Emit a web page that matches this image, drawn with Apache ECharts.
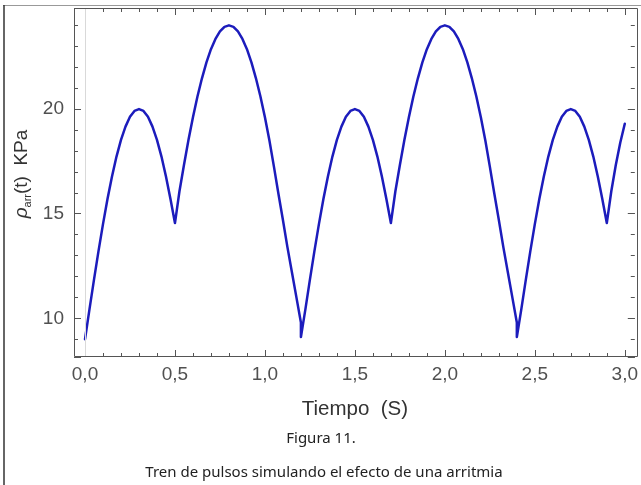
<!DOCTYPE html>
<html>
<head>
<meta charset="utf-8">
<script src="https://cdn.jsdelivr.net/npm/echarts/dist/echarts.min.js"></script>
<style>html,body{margin:0;padding:0;background:#fff}#c{width:641px;height:485px}</style>
</head>
<body>
<div id="c"></div>
<script>
// ---- data ----
const timeS = [
  0.000,0.025,0.050,0.075,0.100,0.125,0.150,0.175,0.200,0.225,0.250,0.275,0.300,0.325,0.350,0.375,0.400,0.425,0.450,0.475,0.500,
  0.525,0.550,0.575,0.600,0.625,0.650,0.675,0.700,0.725,0.750,0.775,0.800,0.825,0.850,0.875,0.900,0.925,0.950,0.975,1.000,1.025,1.050,1.075,1.100,1.125,1.150,1.175,1.200,
  1.200,
  1.225,1.250,1.275,1.300,1.325,1.350,1.375,1.400,1.425,1.450,1.475,1.500,1.525,1.550,1.575,1.600,1.625,1.650,1.675,1.700,
  1.725,1.750,1.775,1.800,1.825,1.850,1.875,1.900,1.925,1.950,1.975,2.000,2.025,2.050,2.075,2.100,2.125,2.150,2.175,2.200,2.225,2.250,2.275,2.300,2.325,2.350,2.375,2.400,
  2.400,
  2.425,2.450,2.475,2.500,2.525,2.550,2.575,2.600,2.625,2.650,2.675,2.700,2.725,2.750,2.775,2.800,2.825,2.850,2.875,2.900,
  2.925,2.950,2.975,3.000
];
const pressureKPa = [
  9.00,10.44,11.85,13.21,14.50,15.70,16.78,17.73,18.53,19.16,19.63,19.91,20.00,19.91,19.63,19.16,18.53,17.73,16.78,15.70,14.55,
  16.07,17.33,18.52,19.61,20.60,21.47,22.23,22.86,23.35,23.71,23.93,24.00,23.93,23.71,23.35,22.86,22.23,21.47,20.60,19.61,18.50,17.25,15.95,14.70,13.40,12.20,11.00,9.80,
  9.10,
  10.44,11.85,13.21,14.50,15.70,16.78,17.73,18.53,19.16,19.63,19.91,20.00,19.91,19.63,19.16,18.53,17.73,16.78,15.70,14.55,
  16.07,17.33,18.52,19.61,20.60,21.47,22.23,22.86,23.35,23.71,23.93,24.00,23.93,23.71,23.35,22.86,22.23,21.47,20.60,19.61,18.50,17.25,15.95,14.70,13.40,12.20,11.00,9.80,
  9.10,
  10.44,11.85,13.21,14.50,15.70,16.78,17.73,18.53,19.16,19.63,19.91,20.00,19.91,19.63,19.16,18.53,17.73,16.78,15.70,14.55,
  16.07,17.33,18.40,19.30
];
const xTickValues = [0, 0.5, 1.0, 1.5, 2.0, 2.5, 3.0];
const yTickValues = [10, 15, 20];
const xTitle = 'Tiempo  (S)';
const figLabel = 'Figura 11.';
const caption = 'Tren de pulsos simulando el efecto de una arritmia';

// ---- chart ----
const Y_MIN = 8.15, Y_MAX = 24.83;
const near = (v, arr) => arr.find(a => Math.abs(a - v) < 1e-6);
const TICK = '#555';
const LBL = {fontFamily: 'Liberation Sans', fontSize: 19, color: '#505050'};

function mkX(pos, step, len, withLabels, extra) {
  return Object.assign({
    type: 'value', position: pos, min: 0, max: 3, interval: step,
    axisLine: {show: false, onZero: false},
    splitLine: {show: false},
    axisTick: {show: true, inside: true, length: len, lineStyle: {color: TICK, width: 1}},
    axisLabel: Object.assign({show: withLabels, margin: 8,
      formatter: v => { const m = near(v, xTickValues); return m === undefined ? '' : m.toFixed(1).replace('.', ','); }
    }, LBL)
  }, extra || {});
}
function mkY(pos, step, len, withLabels, off) {
  return {
    type: 'value', position: pos, offset: off, min: Y_MIN, max: Y_MAX,
    minInterval: step, maxInterval: step, splitNumber: Math.round(17 / step),
    axisLine: {show: false, onZero: false},
    splitLine: {show: false},
    axisTick: {show: true, inside: true, length: len, lineStyle: {color: TICK, width: 1}},
    axisLabel: Object.assign({show: withLabels, margin: 10,
      formatter: v => { const m = near(v, yTickValues); return m === undefined ? '' : String(m); }
    }, LBL)
  };
}

const chart = echarts.init(document.getElementById('c'), null, {renderer: 'canvas'});
chart.setOption({
  animation: false,
  backgroundColor: '#fff',
  grid: {left: 85, top: 8, right: 13, bottom: 128, show: false},
  xAxis: [
    mkX('bottom', 0.5, 7, true, {name: xTitle, nameLocation: 'middle', nameGap: 42,
      nameTextStyle: {fontFamily: 'Liberation Sans', fontSize: 20.5, color: '#333'}}),
    mkX('bottom', 0.1, 4, false),
    mkX('top', 0.5, 7, false),
    mkX('top', 0.1, 4, false)
  ],
  yAxis: [
    mkY('left', 1, 4, false, 11),
    mkY('left', 5, 7, true, 11),
    mkY('right', 5, 7, false, 10),
    mkY('right', 1, 4, false, 10)
  ],
  series: [{
    type: 'line', xAxisIndex: 0, yAxisIndex: 0, clip: false,
    data: timeS.map((t, i) => [t, pressureKPa[i]]),
    showSymbol: false, symbol: 'none', smooth: false,
    lineStyle: {color: '#1c1cbc', width: 2.5, join: 'round', cap: 'round'},
    markLine: {silent: true, symbol: ['none', 'none'], label: {show: false},
      lineStyle: {color: '#d9d9d9', width: 1, type: 'solid'}, data: [{xAxis: 0}]},
    z: 3
  }],
  graphic: [
    {type: 'rect', shape: {x: 74.5, y: 8.5, width: 563, height: 348}, style: {fill: 'none', stroke: '#555', lineWidth: 1}, silent: true, z: 10},
    {type: 'line', shape: {x1: 3, y1: 5.5, x2: 641, y2: 5.5}, style: {stroke: '#999', lineWidth: 1}, silent: true},
    {type: 'line', shape: {x1: 4, y1: 5, x2: 4, y2: 485}, style: {stroke: '#333', lineWidth: 1.5}, silent: true},
    {type: 'text', x: 22, y: 174, rotation: Math.PI / 2, silent: true,
      style: {text: '{p|ρ}{s|arr}{n|(t)  KPa}', align: 'center', verticalAlign: 'middle',
        rich: {
          p: {fontFamily: 'Liberation Sans', fontStyle: 'italic', fontSize: 19, fill: '#333', lineHeight: 22},
          s: {fontFamily: 'Liberation Sans', fontSize: 11, fill: '#333', verticalAlign: 'bottom', lineHeight: 12},
          n: {fontFamily: 'Liberation Sans', fontSize: 19, fill: '#333', lineHeight: 22}
        }}},
    {type: 'text', x: 321, y: 439, silent: true,
      style: {text: figLabel, fontFamily: 'Noto Sans', fontSize: 15, fill: '#222', align: 'center', verticalAlign: 'middle'}},
    {type: 'text', x: 324, y: 473, silent: true,
      style: {text: caption, fontFamily: 'Noto Sans', fontSize: 15, fill: '#222', align: 'center', verticalAlign: 'middle'}}
  ]
});
</script>
</body>
</html>
